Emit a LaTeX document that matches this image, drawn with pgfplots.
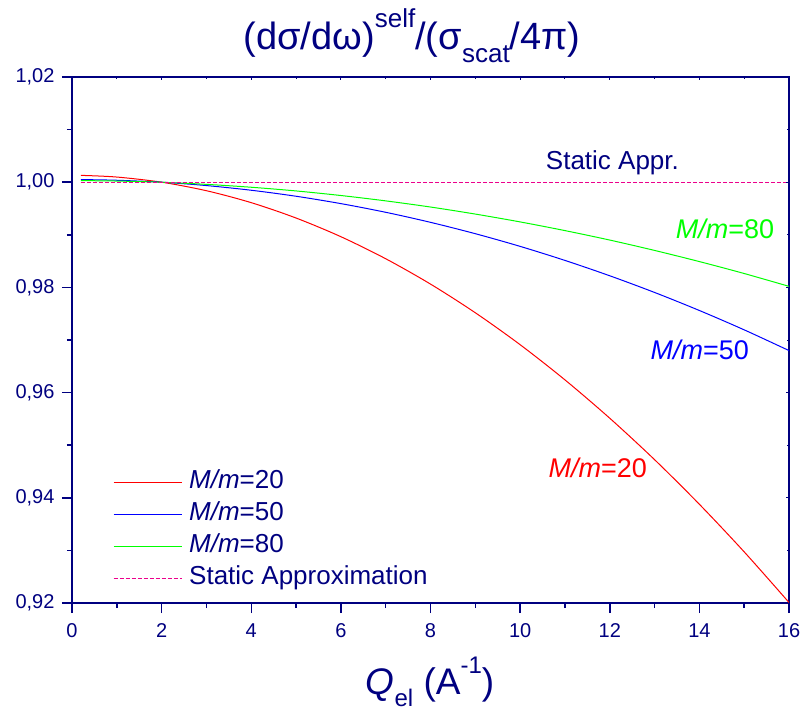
\documentclass[border=0pt]{standalone}
\usepackage{fontspec}
\setmainfont{Liberation Sans}
\usepackage{pgfplots}
\usepackage{pgfplotstable}
\pgfplotsset{compat=1.18}
\definecolor{navy}{RGB}{0,0,128}
\definecolor{lgreen}{RGB}{0,255,0}

% differential cross section ratio vs. elastic momentum transfer
\pgfplotstableread{
Q     m20      m50      m80
0.2   1.00130  1.00050  1.00030
1     1.00098  1.00037  1.00022
2     1.00000  1.00000  0.99999
3     0.99838  0.99936  0.99959
4     0.99611  0.99847  0.99904
5     0.99319  0.99733  0.99834
6     0.98964  0.99593  0.99747
7     0.98545  0.99428  0.99645
8     0.98063  0.99237  0.99528
9     0.97518  0.99021  0.99394
10    0.96911  0.98780  0.99245
11    0.96242  0.98513  0.99080
12    0.95513  0.98221  0.98900
13    0.94725  0.97904  0.98703
14    0.93877  0.97561  0.98491
15    0.92972  0.97193  0.98264
16    0.92010  0.96799  0.98020
}\xsdata

\begin{document}
\begin{tikzpicture}
\pgfplotsset{
  common/.style={
    scale only axis, width=717pt, height=526pt,
    xmin=0, xmax=16, ymin=0.92, ymax=1.02,
    xtick={0,2,...,16}, ytick={0.92,0.94,...,1.02},
    minor x tick num=1, minor y tick num=1,
  }
}
\begin{axis}[
  common,
  axis line style={navy, line width=2pt},
  every tick/.style={navy, line width=1.5pt},
  tick align=outside,
  xtick pos=left, ytick pos=left,
  major tick length=10pt, minor tick length=5pt,
  /pgf/number format/assume math mode=true,
  yticklabel style={/pgf/number format/use comma, /pgf/number format/fixed,
    /pgf/number format/fixed zerofill, /pgf/number format/precision=2, xshift=-4pt},
  ticklabel style={font=\fontsize{20}{24}\selectfont, text=navy},
  xticklabel style={yshift=-7pt},
  legend style={draw=none, fill=none, at={(axis description cs:0.053,0.257)}, anchor=north west,
    font=\fontsize{26}{30}\selectfont,
    nodes={inner sep=0pt, text height=18pt, text depth=6pt}, row sep=8.3pt},
  legend cell align=left,
  /tikz/every odd column/.style={column sep=7pt},
  legend image code/.code={\draw[#1] (0pt,0pt) -- (68pt,0pt);},
]
\addplot[red, line width=1pt, smooth] table[x=Q, y=m20] {\xsdata};
\addlegendentry{\textcolor{navy}{\textit{M/m}=20}}
\addplot[blue, line width=1pt, smooth] table[x=Q, y=m50] {\xsdata};
\addlegendentry{\textcolor{navy}{\textit{M/m}=50}}
\addplot[lgreen, line width=1pt, smooth] table[x=Q, y=m80] {\xsdata};
\addlegendentry{\textcolor{navy}{\textit{M/m}=80}}
\addplot[magenta, line width=1pt, dash pattern=on 4pt off 2pt] coordinates {(0.2,1) (16,1)};
\addlegendentry{\textcolor{navy}{Static Approximation}}

\node[text=navy, font=\fontsize{26}{30}\selectfont] at (axis cs:12.06,1.00365) {Static Appr.};
\node[text=lgreen, font=\fontsize{27}{30}\selectfont] at (axis cs:14.57,0.9911) {\textit{M/m}=80};
\node[text=blue, font=\fontsize{27}{30}\selectfont] at (axis cs:14.01,0.9681) {\textit{M/m}=50};
\node[text=red, font=\fontsize{27}{30}\selectfont] at (axis cs:11.73,0.94567) {\textit{M/m}=20};
\end{axis}
% small inward ticks on the top and right edges
\begin{axis}[
  common,
  axis line style={draw=none},
  every tick/.style={navy, line width=1pt},
  tick align=inside,
  xtick pos=right, ytick pos=right,
  major tick length=3pt, minor tick length=2pt,
  xticklabels={}, yticklabels={},
]
\end{axis}
\node[anchor=base, text=navy, font=\fontsize{38}{42}\selectfont] at (340pt,553pt)
  {(dσ/dω)\raisebox{22pt}{\fontsize{26}{26}\selectfont self}/(σ\raisebox{-13pt}{\fontsize{26}{26}\selectfont scat}/4π)};
\node[anchor=base, text=navy, font=\fontsize{37}{42}\selectfont] at (358pt,-91pt)
  {\textit{Q}\raisebox{-12pt}{\fontsize{24}{24}\selectfont el} (A\raisebox{21pt}{\fontsize{24}{24}\selectfont -1})};
\pgfresetboundingbox
\path[use as bounding box] (-72pt,-107pt) rectangle (730pt,603pt);
\end{tikzpicture}
\end{document}
